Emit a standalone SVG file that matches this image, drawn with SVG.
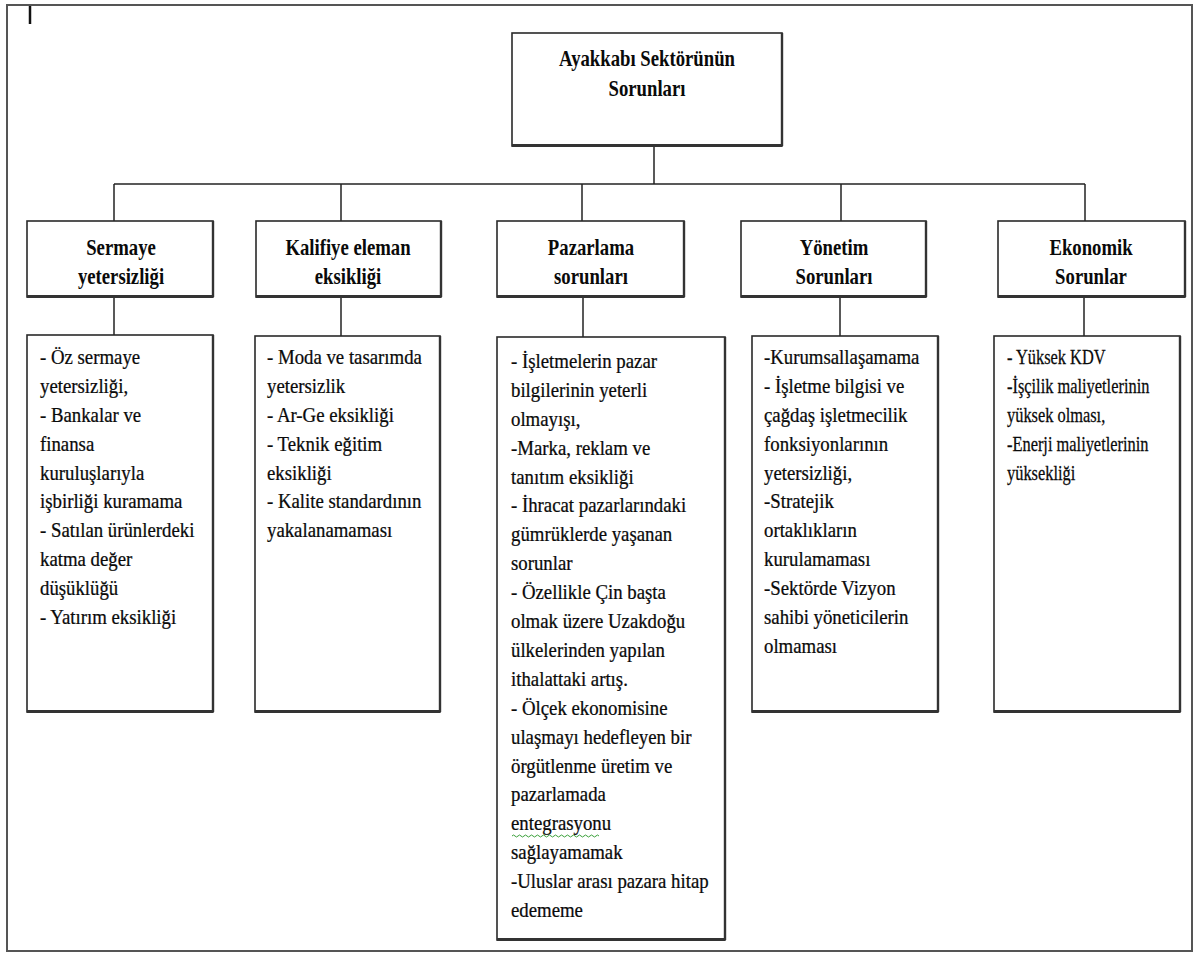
<svg xmlns="http://www.w3.org/2000/svg" width="1197" height="954" viewBox="0 0 1197 954">
  <style>
    .frame { fill: #ffffff; stroke: #555555; stroke-width: 2; }
    .box { fill: #ffffff; stroke: #2a2a2a; stroke-width: 1.6; }
    .base { stroke: #333333; stroke-width: 3.2; fill: none; }
    .side { stroke: #333333; stroke-width: 2.4; fill: none; }
    .link { stroke: #222222; stroke-width: 1.5; fill: none; }
    text { font-family: 'Liberation Serif', 'Times New Roman', 'DejaVu Serif', serif; fill: #0a0a0a; }
    .head { font-weight: bold; font-size: 24px; text-anchor: middle; }
    .body { font-size: 20px; stroke: #0a0a0a; stroke-width: 0.25; }
  </style>

  <!-- page frame -->
  <rect class="frame" x="7" y="5" width="1185" height="946"/>
  <line x1="30" y1="6" x2="30" y2="24" stroke="#111111" stroke-width="2.5"/>

  <!-- connectors -->
  <g id="connectors">
    <line class="link" x1="654" y1="146" x2="654" y2="184"/>
    <line class="link" x1="114" y1="184" x2="1085" y2="184"/>
    <line class="link" x1="114" y1="184" x2="114" y2="221"/>
    <line class="link" x1="341" y1="184" x2="341" y2="221"/>
    <line class="link" x1="582" y1="184" x2="582" y2="221"/>
    <line class="link" x1="841" y1="184" x2="841" y2="221"/>
    <line class="link" x1="1085" y1="184" x2="1085" y2="221"/>
    <line class="link" x1="114" y1="297" x2="114" y2="335"/>
    <line class="link" x1="341" y1="297" x2="341" y2="336"/>
    <line class="link" x1="583" y1="297" x2="583" y2="337"/>
    <line class="link" x1="840" y1="297" x2="840" y2="336"/>
    <line class="link" x1="1084" y1="297" x2="1084" y2="336"/>
  </g>

  <!-- root -->
  <g id="root">
    <rect class="box" x="512" y="33" width="270" height="113"/>
    <line class="side" x1="782" y1="33" x2="782" y2="146"/>
    <line class="base" x1="512" y1="145.5" x2="782" y2="145.5"/>
    <g transform="translate(647,0) scale(0.78,1)">
      <text class="head" x="0" y="66">Ayakkabı Sektörünün</text>
      <text class="head" x="0" y="96">Sorunları</text>
    </g>
  </g>

  <!-- category headers -->
  <g id="sermaye">
    <rect class="box" x="27" y="221" width="186" height="76"/>
    <line class="side" x1="213" y1="221" x2="213" y2="297"/>
    <line class="base" x1="27" y1="296.5" x2="213" y2="296.5"/>
    <g transform="translate(121,0) scale(0.78,1)">
      <text class="head" x="0" y="255">Sermaye</text>
      <text class="head" x="0" y="284">yetersizliği</text>
    </g>
  </g>
  <g id="kalifiye">
    <rect class="box" x="256" y="221" width="185" height="76"/>
    <line class="side" x1="441" y1="221" x2="441" y2="297"/>
    <line class="base" x1="256" y1="296.5" x2="441" y2="296.5"/>
    <g transform="translate(348,0) scale(0.78,1)">
      <text class="head" x="0" y="255">Kalifiye eleman</text>
      <text class="head" x="0" y="284">eksikliği</text>
    </g>
  </g>
  <g id="pazarlama">
    <rect class="box" x="497" y="221" width="187" height="76"/>
    <line class="side" x1="684" y1="221" x2="684" y2="297"/>
    <line class="base" x1="497" y1="296.5" x2="684" y2="296.5"/>
    <g transform="translate(591,0) scale(0.78,1)">
      <text class="head" x="0" y="255">Pazarlama</text>
      <text class="head" x="0" y="284">sorunları</text>
    </g>
  </g>
  <g id="yonetim">
    <rect class="box" x="741" y="221" width="185" height="76"/>
    <line class="side" x1="926" y1="221" x2="926" y2="297"/>
    <line class="base" x1="741" y1="296.5" x2="926" y2="296.5"/>
    <g transform="translate(834,0) scale(0.78,1)">
      <text class="head" x="0" y="255">Yönetim</text>
      <text class="head" x="0" y="284">Sorunları</text>
    </g>
  </g>
  <g id="ekonomik">
    <rect class="box" x="998" y="221" width="187" height="76"/>
    <line class="side" x1="1185" y1="221" x2="1185" y2="297"/>
    <line class="base" x1="998" y1="296.5" x2="1185" y2="296.5"/>
    <g transform="translate(1091,0) scale(0.78,1)">
      <text class="head" x="0" y="255">Ekonomik</text>
      <text class="head" x="0" y="284">Sorunlar</text>
    </g>
  </g>

  <!-- detail lists -->
  <g id="sermaye-detay">
    <rect class="box" x="27" y="335" width="186" height="377"/>
    <line class="side" x1="213" y1="335" x2="213" y2="712"/>
    <line class="base" x1="27" y1="711.5" x2="213" y2="711.5"/>
    <g transform="translate(40,0) scale(0.94,1)">
      <text class="body" x="0" y="364">- Öz sermaye</text>
      <text class="body" x="0" y="392.9">yetersizliği,</text>
      <text class="body" x="0" y="421.8">- Bankalar  ve</text>
      <text class="body" x="0" y="450.7">finansa</text>
      <text class="body" x="0" y="479.6">kuruluşlarıyla</text>
      <text class="body" x="0" y="508.5">işbirliği kuramama</text>
      <text class="body" x="0" y="537.4">- Satılan ürünlerdeki</text>
      <text class="body" x="0" y="566.3">katma değer</text>
      <text class="body" x="0" y="595.2">düşüklüğü</text>
      <text class="body" x="0" y="624.1">- Yatırım eksikliği</text>
    </g>
  </g>

  <g id="kalifiye-detay">
    <rect class="box" x="255" y="336" width="185" height="376"/>
    <line class="side" x1="440" y1="336" x2="440" y2="712"/>
    <line class="base" x1="255" y1="711.5" x2="440" y2="711.5"/>
    <g transform="translate(267,0) scale(0.94,1)">
      <text class="body" x="0" y="364">- Moda ve tasarımda</text>
      <text class="body" x="0" y="392.9">yetersizlik</text>
      <text class="body" x="0" y="421.8">- Ar-Ge eksikliği</text>
      <text class="body" x="0" y="450.7">- Teknik eğitim</text>
      <text class="body" x="0" y="479.6">eksikliği</text>
      <text class="body" x="0" y="508.5">- Kalite standardının</text>
      <text class="body" x="0" y="537.4">yakalanamaması</text>
    </g>
  </g>

  <g id="pazarlama-detay">
    <rect class="box" x="497" y="337" width="228" height="603"/>
    <line class="side" x1="725" y1="337" x2="725" y2="940"/>
    <line class="base" x1="497" y1="939.5" x2="725" y2="939.5"/>
    <g transform="translate(511,0) scale(0.94,1)">
      <text class="body" x="0" y="368">- İşletmelerin pazar</text>
      <text class="body" x="0" y="396.9">bilgilerinin yeterli</text>
      <text class="body" x="0" y="425.8">olmayışı,</text>
      <text class="body" x="0" y="454.7">-Marka,  reklam ve</text>
      <text class="body" x="0" y="483.6">tanıtım eksikliği</text>
      <text class="body" x="0" y="512.5">- İhracat pazarlarındaki</text>
      <text class="body" x="0" y="541.4">gümrüklerde yaşanan</text>
      <text class="body" x="0" y="570.3">sorunlar</text>
      <text class="body" x="0" y="599.2">- Özellikle Çin başta</text>
      <text class="body" x="0" y="628.1">olmak üzere Uzakdoğu</text>
      <text class="body" x="0" y="657">ülkelerinden yapılan</text>
      <text class="body" x="0" y="685.9">ithalattaki artış.</text>
      <text class="body" x="0" y="714.8">- Ölçek ekonomisine</text>
      <text class="body" x="0" y="743.7">ulaşmayı hedefleyen  bir</text>
      <text class="body" x="0" y="772.6">örgütlenme üretim ve</text>
      <text class="body" x="0" y="801.5">pazarlamada</text>
      <text class="body" x="0" y="830.4">entegrasyonu</text>
      <text class="body" x="0" y="859.3">sağlayamamak</text>
      <text class="body" x="0" y="888.2">-Uluslar arası pazara hitap</text>
      <text class="body" x="0" y="917.1">edememe</text>
    </g>
    <!-- spelling squiggle under "entegrasyonu" -->
    <path d="M512 836 q1.5 -2 3 0 t3 0 t3 0 t3 0 t3 0 t3 0 t3 0 t3 0 t3 0 t3 0 t3 0 t3 0 t3 0 t3 0 t3 0 t3 0 t3 0 t3 0 t3 0 t3 0 t3 0 t3 0 t3 0 t3 0 t3 0 t3 0 t3 0 t3 0 t3 0" fill="none" stroke="#3aa03a" stroke-width="1"/>
  </g>

  <g id="yonetim-detay">
    <rect class="box" x="752" y="336" width="186" height="376"/>
    <line class="side" x1="938" y1="336" x2="938" y2="712"/>
    <line class="base" x1="752" y1="711.5" x2="938" y2="711.5"/>
    <g transform="translate(764,0) scale(0.94,1)">
      <text class="body" x="0" y="364">-Kurumsallaşamama</text>
      <text class="body" x="0" y="392.9">- İşletme bilgisi ve</text>
      <text class="body" x="0" y="421.8">çağdaş işletmecilik</text>
      <text class="body" x="0" y="450.7">fonksiyonlarının</text>
      <text class="body" x="0" y="479.6">yetersizliği,</text>
      <text class="body" x="0" y="508.5">-Stratejik</text>
      <text class="body" x="0" y="537.4">ortaklıkların</text>
      <text class="body" x="0" y="566.3">kurulamaması</text>
      <text class="body" x="0" y="595.2">-Sektörde Vizyon</text>
      <text class="body" x="0" y="624.1">sahibi yöneticilerin</text>
      <text class="body" x="0" y="653">olmaması</text>
    </g>
  </g>

  <g id="ekonomik-detay">
    <rect class="box" x="994" y="336" width="186" height="376"/>
    <line class="side" x1="1180" y1="336" x2="1180" y2="712"/>
    <line class="base" x1="994" y1="711.5" x2="1180" y2="711.5"/>
    <g transform="translate(1007,0) scale(0.82,1)">
      <text class="body" x="0" y="364">- Yüksek KDV</text>
      <text class="body" x="0" y="392.9">-İşçilik  maliyetlerinin</text>
      <text class="body" x="0" y="421.8">yüksek olması,</text>
      <text class="body" x="0" y="450.7">-Enerji  maliyetlerinin</text>
      <text class="body" x="0" y="479.6">yüksekliği</text>
    </g>
  </g>
</svg>
